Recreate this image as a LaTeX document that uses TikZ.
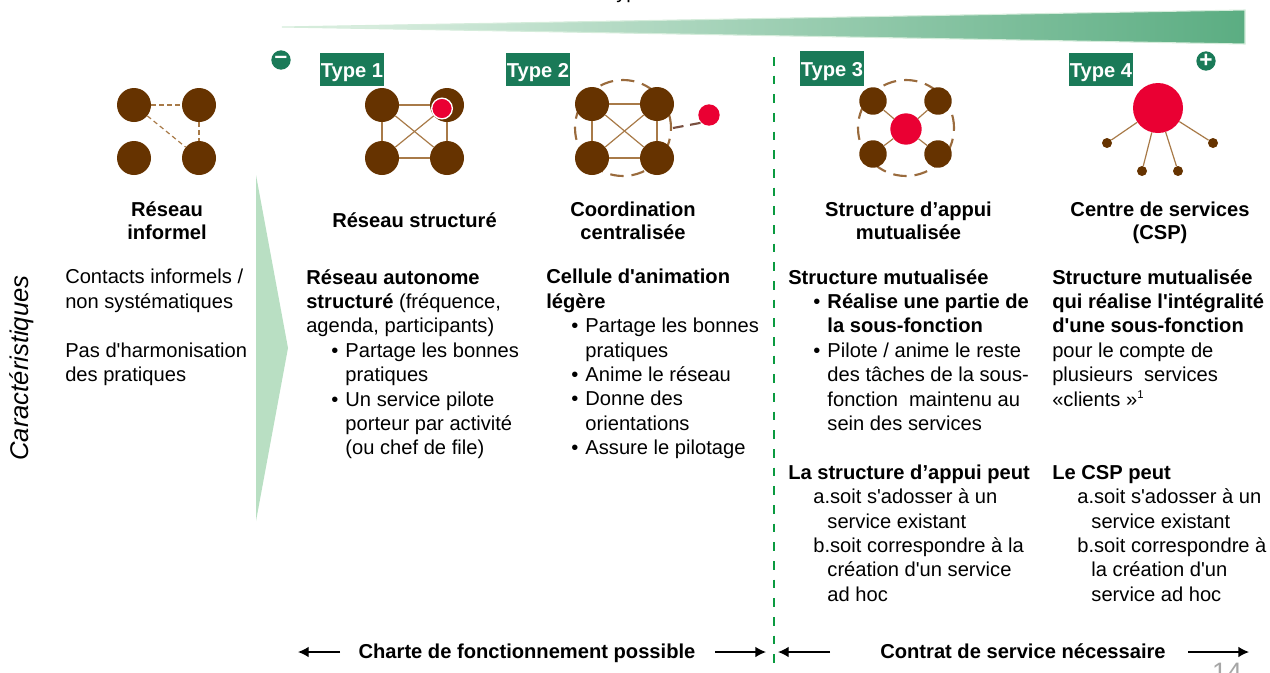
\documentclass[tikz,border=0pt]{standalone}
\usepackage{fontspec}
\setmainfont{Liberation Sans}[Ligatures=TeXOff]
\usetikzlibrary{arrows.meta}
\newcommand{\Puce}{\makebox[10.6pt][l]{•}}
\newcommand{\Retrait}{\hspace*{18.8pt}}
\newcommand{\RetraitB}{\hspace*{29.4pt}}
\newcommand{\TagText}[1]{\raisebox{-2pt}[\height][\depth]{#1}}
\definecolor{nodebrown}{HTML}{663300}
\definecolor{linkbrown}{HTML}{A87A48}
\definecolor{ringbrown}{HTML}{9A6B3D}
\definecolor{tailbrown}{HTML}{7A5040}
\definecolor{hubred}{HTML}{EA0033}
\definecolor{typegreen}{HTML}{1A7A58}
\definecolor{sepgreen}{HTML}{0A9A40}
\definecolor{palegreen}{HTML}{B9DFC3}
\definecolor{wedgegreen}{HTML}{5BAD82}
\tikzset{
    bignode/.style={circle,fill=nodebrown,inner sep=0,minimum size=25.5pt},
    midnode/.style={circle,fill=nodebrown,inner sep=0,minimum size=20.6pt},
    tipnode/.style={circle,fill=nodebrown,inner sep=0,minimum size=7.5pt},
    hubnode/.style={circle,fill=hubred,inner sep=0},
    ring/.style={circle,draw=ringbrown,line width=1.6pt,dash pattern=on 10pt off 6pt,inner sep=0,minimum size=72pt},
    solidlink/.style={draw=linkbrown,line width=0.9pt},
    softlink/.style={draw=linkbrown,line width=0.9pt,dash pattern=on 3.5pt off 2.5pt},
    typetag/.style={fill=typegreen,text=white,inner sep=0,minimum width=48pt,minimum height=24.8pt,font=\fontsize{15.1}{17}\selectfont\bfseries},
    signnode/.style={circle,fill=typegreen,text=white,inner sep=0,minimum size=14.5pt,font=\fontsize{17}{17}\selectfont\bfseries},
    headtext/.style={align=center,inner sep=0,font=\fontsize{15.1}{17.3}\selectfont\bfseries},
    bodytext/.style={align=left,anchor=north west,inner sep=0,font=\fontsize{15.1}{18.3}\selectfont},
}

\begin{document}
\begin{tikzpicture}[>={Latex[length=8pt,width=8pt]},x=0.75pt,y=-0.75pt]
    \useasboundingbox (0,0) rectangle (1270,672);
    \clip (0,0) rectangle (1270,672);

    % gradient wedge and side arrow
    \path[draw=palegreen!60,line width=0.8pt,left color=palegreen!40,right color=wedgegreen]
        (282,27) -- (1245,10) -- (1245,44) -- cycle;
    \fill[palegreen] (256,175) -- (288,348) -- (256,521) -- cycle;
    \node[inner sep=0,font=\fontsize{15.1}{17}\selectfont] (gradlabel) at (627,-6.5) {Type};
    \node[signnode] (minus) at (281,60) {–};
    \node[signnode] (plus) at (1206,61) {+};

    % separator
    \coordinate (septop) at (774,57);
    \coordinate (sepbot) at (774,672);
    \draw[sepgreen,line width=1.5pt,dash pattern=on 6.5pt off 7.5pt] (septop) -- (sepbot);

    % informal network
    \node[bignode] (ia) at (134,105) {};
    \node[bignode] (ib) at (199,105) {};
    \node[bignode] (ic) at (134,158) {};
    \node[bignode] (id) at (199,158) {};
    \draw[softlink] (ia) -- (ib);
    \draw[softlink] (ib) -- (id);
    \draw[softlink] (ia) -- (id);

    % type 1
    \node[bignode] (sa) at (382,105) {};
    \node[bignode] (sb) at (447,105) {};
    \node[bignode] (sc) at (382,158) {};
    \node[bignode] (sd) at (447,158) {};
    \draw[solidlink] (sa) -- (sb);
    \draw[solidlink] (sa) -- (sc);
    \draw[solidlink] (sb) -- (sd);
    \draw[solidlink] (sc) -- (sd);
    \draw[solidlink] (sa) -- (sd);
    \draw[solidlink] (sb) -- (sc);
    \node[hubnode,draw=white,line width=1pt,minimum size=15.5pt] (shub) at (442,108.5) {};

    % type 2
    \node[ring] (cring) at (623,128) {};
    \node[bignode] (ca) at (592,104) {};
    \node[bignode] (cb) at (657,104) {};
    \node[bignode] (cc) at (592,158) {};
    \node[bignode] (cd) at (657,158) {};
    \draw[solidlink] (ca) -- (cb);
    \draw[solidlink] (ca) -- (cc);
    \draw[solidlink] (cb) -- (cd);
    \draw[solidlink] (cc) -- (cd);
    \draw[solidlink] (ca) -- (cd);
    \draw[solidlink] (cb) -- (cc);
    \node[hubnode,minimum size=16pt] (chub) at (709,115) {};
    \coordinate (ctail) at (673,128);
    \draw[tailbrown,line width=1.6pt,dash pattern=on 8pt off 5pt] (ctail) -- (chub.south west);

    % type 3
    \node[ring] (mring) at (906,128) {};
    \node[midnode] (ma) at (873,101) {};
    \node[midnode] (mb) at (938,101) {};
    \node[midnode] (mc) at (873,154) {};
    \node[midnode] (md) at (938,154) {};
    \node[hubnode,minimum size=23.5pt] (mhub) at (906,129) {};
    \draw[solidlink] (mhub) -- (ma);
    \draw[solidlink] (mhub) -- (mb);
    \draw[solidlink] (mhub) -- (mc);
    \draw[solidlink] (mhub) -- (md);

    % type 4
    \node[hubnode,minimum size=37.5pt] (phub) at (1158,108) {};
    \node[tipnode] (pa) at (1107,143) {};
    \node[tipnode] (pb) at (1142,171) {};
    \node[tipnode] (pc) at (1178,171) {};
    \node[tipnode] (pd) at (1213,143) {};
    \draw[solidlink] (phub) -- (pa);
    \draw[solidlink] (phub) -- (pb);
    \draw[solidlink] (phub) -- (pc);
    \draw[solidlink] (phub) -- (pd);

    % type tags
    \node[typetag] (tagone) at (352,69.5) {\TagText{Type 1}};
    \node[typetag] (tagtwo) at (538,69.5) {\TagText{Type 2}};
    \node[typetag,minimum height=26.3pt] (tagthree) at (832,68.5) {\TagText{Type 3}};
    \node[typetag] (tagfour) at (1101,69.5) {\TagText{Type 4}};

    % headings
    \node[headtext] (headzero) at (167,220.5) {Réseau\\informel};
    \node[headtext] (headone) at (414.5,220.5) {Réseau structuré};
    \node[headtext] (headtwo) at (633,220.5) {Coordination\\centralisée};
    \node[headtext] (headthree) at (908.5,220.5) {Structure d’appui\\mutualisée};
    \node[headtext] (headfour) at (1160,222.5) {Centre de services\\(CSP)};

    \node[rotate=90,inner sep=0,font=\fontsize{19.2}{21}\selectfont\itshape] (side) at (22,368) {Caractéristiques};

    % body text
    \node[bodytext] (bodyzero) at (65,269) {Contacts informels /\\non systématiques\\[18.3pt]Pas d'harmonisation\\des pratiques};
    \node[bodytext] (bodyone) at (306,269) {\textbf{Réseau autonome}\\\textbf{structuré} (fréquence,\\agenda, participants)\\
        \Retrait\Puce Partage les bonnes\\\RetraitB pratiques\\
        \Retrait\Puce Un service pilote\\\RetraitB porteur par activité\\\RetraitB (ou chef de file)};
    \node[bodytext] (bodytwo) at (546,269) {\textbf{Cellule d'animation}\\\textbf{légère}\\
        \Retrait\Puce Partage les bonnes\\\RetraitB pratiques\\
        \Retrait\Puce Anime le réseau\\
        \Retrait\Puce Donne des\\\RetraitB orientations\\
        \Retrait\Puce Assure le pilotage};
    \node[bodytext] (bodythree) at (788,269) {\textbf{Structure mutualisée}\\
        \Retrait\Puce\textbf{Réalise une partie de}\\\RetraitB\textbf{la sous-fonction}\\
        \Retrait\Puce Pilote / anime le reste\\\RetraitB des tâches de la sous-\\\RetraitB fonction~~maintenu au\\\RetraitB sein des services\\[18.3pt]
        \textbf{La structure d’appui peut}\\
        \Retrait a.soit s'adosser à un\\\RetraitB service existant\\
        \Retrait b.soit correspondre à la\\\RetraitB création d'un service\\\RetraitB ad hoc};
    \node[bodytext] (bodyfour) at (1052,269) {\textbf{Structure mutualisée}\\\textbf{qui réalise l'intégralité}\\\textbf{d'une sous-fonction}\\
        pour le compte de\\plusieurs~~services\\«clients »\raisebox{5.5pt}{\fontsize{8.5}{9}\selectfont 1}\\[36.6pt]
        \textbf{Le CSP peut}\\
        \Retrait a.soit s'adosser à un\\\RetraitB service existant\\
        \Retrait b.soit correspondre à\\\RetraitB la création d'un\\\RetraitB service ad hoc};

    % bottom spans
    \node[headtext,anchor=base] (charte) at (527,658) {Charte de fonctionnement possible};
    \node[headtext,anchor=base] (contrat) at (1023,658) {Contrat de service nécessaire};
    \coordinate (chartea) at (340,652);
    \coordinate (charteb) at (298,652);
    \coordinate (chartec) at (715,652);
    \coordinate (charted) at (766,652);
    \coordinate (contrata) at (830,652);
    \coordinate (contratb) at (778,652);
    \coordinate (contratc) at (1188,652);
    \coordinate (contratd) at (1249,652);
    \draw[->,line width=1pt] (chartea) -- (charteb);
    \draw[->,line width=1pt] (chartec) -- (charted);
    \draw[->,line width=1pt] (contrata) -- (contratb);
    \draw[->,line width=1pt] (contratc) -- (contratd);

    \node[inner sep=0,text=black!35,font=\fontsize{20}{22}\selectfont] (pagenum) at (1227,672) {14};
\end{tikzpicture}
\end{document}
